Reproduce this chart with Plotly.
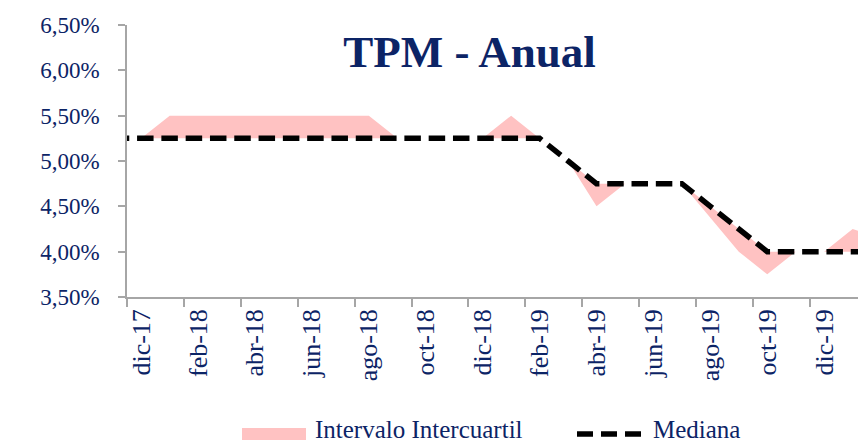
import plotly.graph_objects as go

months = ["nov-17", "dic-17", "ene-18", "feb-18", "mar-18", "abr-18", "may-18", "jun-18",
          "jul-18", "ago-18", "sep-18", "oct-18", "nov-18", "dic-18", "ene-19", "feb-19",
          "mar-19", "abr-19", "may-19", "jun-19", "jul-19", "ago-19", "sep-19", "oct-19",
          "nov-19", "dic-19", "ene-20", "feb-20"]

mediana = [5.25, 5.25, 5.25, 5.25, 5.25, 5.25, 5.25, 5.25,
           5.25, 5.25, 5.25, 5.25, 5.25, 5.25, 5.25, 5.25,
           5.00, 4.75, 4.75, 4.75, 4.75, 4.50, 4.25, 4.00,
           4.00, 4.00, 4.00, 4.00]

q_sup = [5.25, 5.25, 5.50, 5.50, 5.50, 5.50, 5.50, 5.50,
         5.50, 5.50, 5.25, 5.25, 5.25, 5.25, 5.50, 5.25,
         5.00, 4.75, 4.75, 4.75, 4.75, 4.50, 4.25, 4.00,
         4.00, 4.00, 4.25, 4.15]

q_inf = [5.25, 5.25, 5.25, 5.25, 5.25, 5.25, 5.25, 5.25,
         5.25, 5.25, 5.25, 5.25, 5.25, 5.25, 5.25, 5.25,
         5.00, 4.50, 4.75, 4.75, 4.75, 4.375, 4.00, 3.75,
         4.00, 4.00, 4.00, 4.00]

y_ticks = [3.5, 4.0, 4.5, 5.0, 5.5, 6.0, 6.5]
y_tick_labels = ["3,50%", "4,00%", "4,50%", "5,00%", "5,50%", "6,00%", "6,50%"]

NAVY = "#0C2466"
PINK = "#FFC2C2"
FONT = "Liberation Serif"

fig = go.Figure()
fig.add_trace(go.Scatter(x=months, y=q_inf, mode="lines", line=dict(width=0, color=PINK),
                         showlegend=False, hoverinfo="skip"))
fig.add_trace(go.Scatter(x=months, y=q_sup, mode="lines", line=dict(width=0, color=PINK),
                         fill="tonexty", fillcolor=PINK, name="Intervalo Intercuartil",
                         showlegend=False))
fig.add_trace(go.Scatter(x=months, y=mediana, mode="lines", name="Mediana",
                         line=dict(color="black", width=5.5, dash="16.5px,7.8px"),
                         showlegend=False))

OFF = 8  # default page body margin
W, H = 866 - OFF, 444 - OFF
L, R, T, B = 127 - OFF, 0, 25 - OFF, 147
pw, ph = W - L - R, H - T - B

def px(xpage):
    return (xpage - OFF - L) / pw

def py(ypage):
    return (H - B - (ypage - OFF)) / ph

shapes = [
    dict(type="rect", xref="paper", yref="paper", x0=px(242), x1=px(306), y0=py(440), y1=py(428),
         fillcolor=PINK, line=dict(width=0)),
    dict(type="line", xref="paper", yref="paper", x0=px(577), x1=px(642), y0=py(434), y1=py(434),
         line=dict(color="black", width=5.5, dash="16px,8px")),
]
annotations = [
    dict(text="Intervalo Intercuartil", xref="paper", yref="paper", x=px(314), y=py(444),
         xanchor="left", yanchor="bottom", showarrow=False, borderpad=0,
         font=dict(family=FONT, size=25, color=NAVY)),
    dict(text="Mediana", xref="paper", yref="paper", x=px(652), y=py(444),
         xanchor="left", yanchor="bottom", showarrow=False, borderpad=0,
         font=dict(family=FONT, size=25, color=NAVY)),
]

fig.update_layout(
    width=W, height=H,
    margin=dict(l=L, r=R, t=T, b=B, pad=0),
    paper_bgcolor="white", plot_bgcolor="white",
    showlegend=False,
    title=dict(text="<b>TPM - Anual</b>", x=(469.5 - OFF) / W, xref="container", xanchor="center",
               y=1 - (51 - OFF) / H, yref="container", yanchor="middle",
               font=dict(family=FONT, size=45, color=NAVY)),
    shapes=shapes, annotations=annotations,
    xaxis=dict(type="category", range=[0.5, 26.47], tickmode="linear", tick0=1, dtick=2,
               tickson="boundaries", ticks="outside", ticklen=8, tickcolor="#A6A6A6",
               tickwidth=1.5, showline=True, linecolor="#A6A6A6", linewidth=1.5,
               showgrid=False, zeroline=False, tickangle=-90,
               tickfont=dict(family=FONT, size=26, color=NAVY)),
    yaxis=dict(range=[3.5, 6.5], tickmode="array", tickvals=y_ticks, ticktext=y_tick_labels,
               ticks="outside", ticklen=7, tickcolor="#A6A6A6", tickwidth=1.5,
               showline=True, linecolor="#A6A6A6", linewidth=1.5, showgrid=False,
               zeroline=False, ticklabelstandoff=14,
               tickfont=dict(family=FONT, size=23, color=NAVY)),
)

fig.write_html("out.html")
